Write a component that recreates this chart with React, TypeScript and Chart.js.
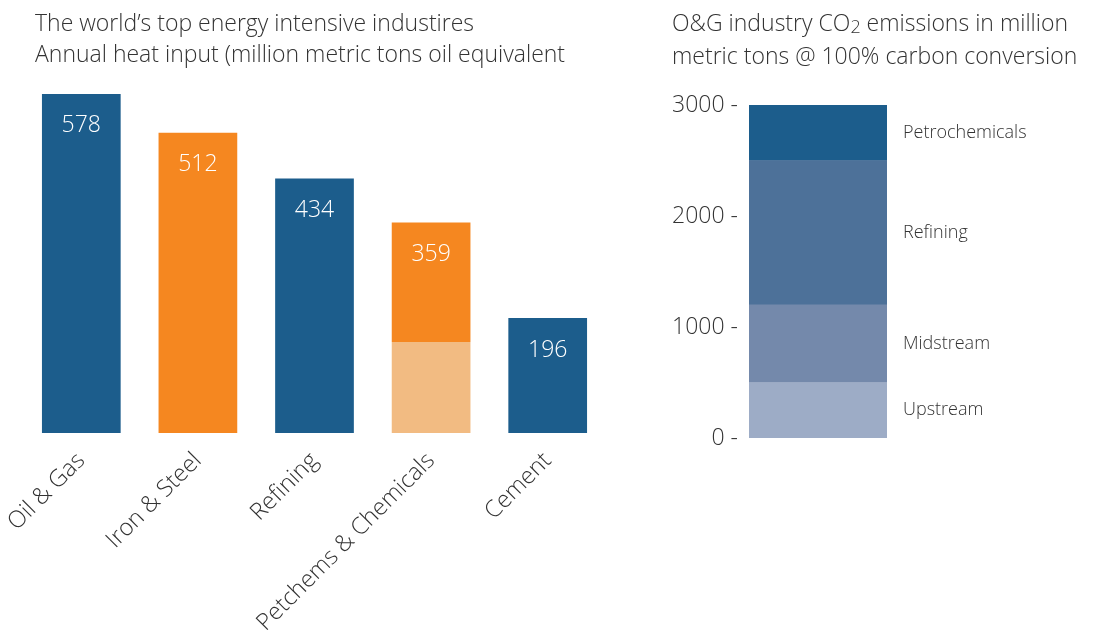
import React, { useEffect, useRef } from 'react';
import { Chart, registerables } from 'chart.js';

Chart.register(...registerables);

// ---- Left chart data ----
const industries = ['Oil & Gas', 'Iron & Steel', 'Refining', 'Petchems & Chemicals', 'Cement'];
const heatInput = [578, 512, 434, 359, 196];
const lowerPortion = [null, null, null, 155, null];
const industryColors = ['#1c5d8c', '#f58720', '#1c5d8c', '#f58720', '#1c5d8c'];
const lowerColor = '#f2bb82';
const heatAxisMax = 600;

// ---- Right chart data ----
const ogCategory = ['O&G'];
const segments = ['Upstream', 'Midstream', 'Refining', 'Petrochemicals'];
const emissions = [500, 700, 1300, 500];
const segmentColors = ['#9dacc6', '#7489ab', '#4d7199', '#1c5d8c'];
const emissionMax = 3000;
const emissionStep = 1000;

const FONT = '"Open Sans", "Liberation Sans", Arial, Helvetica, sans-serif';
const TEXT = '#333333';
const WEIGHT = '300';

const valueLabels = {
  id: 'valueLabels',
  afterDatasetsDraw(chart: any) {
    const meta = chart.getDatasetMeta(1);
    const ctx = chart.ctx;
    ctx.save();
    ctx.font = `${WEIGHT} 23px ${FONT}`;
    ctx.fillStyle = '#ffffff';
    ctx.textAlign = 'center';
    ctx.textBaseline = 'middle';
    meta.data.forEach((el: any, i: number) => {
      ctx.fillText(String(heatInput[i]), el.x, el.y + 32);
    });
    ctx.restore();
  },
};

const segmentLabels = {
  id: 'segmentLabels',
  afterDatasetsDraw(chart: any) {
    const ctx = chart.ctx;
    ctx.save();
    ctx.font = `${WEIGHT} 18px ${FONT}`;
    ctx.fillStyle = TEXT;
    ctx.textAlign = 'left';
    ctx.textBaseline = 'middle';
    chart.data.datasets.forEach((ds: any, i: number) => {
      const el = chart.getDatasetMeta(i).data[0];
      if (!el) return;
      const y = (el.y + el.base) / 2;
      ctx.fillText(ds.label, chart.chartArea.right + 16, y);
    });
    ctx.restore();
  },
};

function LeftChart() {
  const ref = useRef<HTMLCanvasElement>(null);
  useEffect(() => {
    if (!ref.current) return;
    const upper = heatInput.map((v, i) => v - (lowerPortion[i] ?? 0));
    const chart = new Chart(ref.current, {
      type: 'bar',
      data: {
        labels: industries,
        datasets: [
          {
            label: 'lower',
            data: lowerPortion,
            backgroundColor: lowerColor,
            borderWidth: 0,
            barPercentage: 0.675,
            categoryPercentage: 1,
          },
          {
            label: 'Annual heat input',
            data: upper,
            backgroundColor: industryColors,
            borderWidth: 0,
            barPercentage: 0.675,
            categoryPercentage: 1,
          },
        ],
      },
      options: {
        responsive: false,
        animation: false,
        layout: { padding: { left: 23, right: 34, top: 81, bottom: 0 } },
        plugins: { legend: { display: false }, tooltip: { enabled: false } },
        scales: {
          x: {
            stacked: true,
            grid: { display: false, drawTicks: false },
            border: { display: false },
            ticks: {
              autoSkip: false,
              minRotation: 45,
              maxRotation: 45,
              padding: 14,
              color: TEXT,
              font: { family: FONT, size: 23.5, weight: WEIGHT },
            },
            afterFit(scale: any) {
              scale.height = 199;
              scale.paddingLeft = 0;
              scale.paddingRight = 0;
            },
          },
          y: {
            stacked: true,
            display: false,
            min: 0,
            max: heatAxisMax,
          },
        },
      },
      plugins: [valueLabels],
    });
    return () => chart.destroy();
  }, []);
  return <canvas ref={ref} width={640} height={632} style={{ position: 'absolute', left: 0, top: 0, width: 640, height: 632 }} />;
}

function RightChart() {
  const ref = useRef<HTMLCanvasElement>(null);
  useEffect(() => {
    if (!ref.current) return;
    const chart = new Chart(ref.current, {
      type: 'bar',
      data: {
        labels: ogCategory,
        datasets: segments.map((s, i) => ({
          label: s,
          data: [emissions[i]],
          backgroundColor: segmentColors[i],
          borderWidth: 0,
          barPercentage: 1,
          categoryPercentage: 1,
        })),
      },
      options: {
        responsive: false,
        animation: false,
        layout: { padding: { left: 0, right: 206, top: 105, bottom: 194 } },
        plugins: { legend: { display: false }, tooltip: { enabled: false } },
        scales: {
          x: { stacked: true, display: false },
          y: {
            stacked: true,
            min: 0,
            max: emissionMax,
            grid: { display: false, drawTicks: false },
            border: { display: false },
            ticks: {
              stepSize: emissionStep,
              padding: 11,
              color: TEXT,
              font: { family: FONT, size: 23, weight: WEIGHT },
              callback: (v: any) => `${v} -`,
            },
            afterFit(scale: any) {
              scale.width = 109;
            },
          },
        },
      },
      plugins: [segmentLabels],
    });
    return () => chart.destroy();
  }, []);
  return <canvas ref={ref} width={453} height={632} style={{ position: 'absolute', left: 640, top: 0, width: 453, height: 632 }} />;
}

const titleStyle: React.CSSProperties = {
  position: 'absolute',
  top: 7,
  fontFamily: FONT,
  fontSize: 23,
  fontWeight: 300,
  lineHeight: '31px',
  color: TEXT,
  whiteSpace: 'nowrap',
};

export default function App() {
  return (
    <div style={{ position: 'fixed', left: 0, top: 0, width: 1093, height: 632, background: '#ffffff', overflow: 'hidden' }}>
      <LeftChart />
      <RightChart />
      <div style={{ ...titleStyle, left: 35 }}>
        The world’s top energy intensive industires
        <br />
        Annual heat input (million metric tons oil equivalent
      </div>
      <div style={{ ...titleStyle, left: 672 }}>
        O&amp;G industry CO<span style={{ fontSize: '0.78em', position: 'relative', top: '0.12em' }}>2</span> emissions in million
        <br />
        metric tons @ 100% carbon conversion
      </div>
    </div>
  );
}
